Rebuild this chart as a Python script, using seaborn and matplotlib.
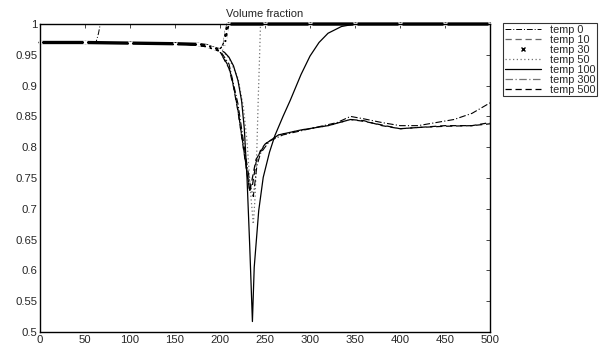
import matplotlib
matplotlib.use("Agg")
import matplotlib.pyplot as plt
from matplotlib.lines import Line2D
import seaborn as sns

# values (x = position, y = volume fraction)
t0_x = [0, 30, 62, 65, 67, 70]
t0_y = [0.970, 0.970, 0.969, 0.985, 1.000, 1.040]

t10_x = [0, 100, 150, 175, 190, 200, 210, 215, 220, 225, 230, 233, 236, 240, 245, 250,
         265, 290, 320, 345, 360, 380, 400, 420, 450, 480, 500]
t10_y = [0.970, 0.969, 0.968, 0.966, 0.961, 0.955, 0.930, 0.900, 0.860, 0.810, 0.760, 0.730,
         0.738, 0.775, 0.795, 0.805, 0.820, 0.828, 0.835, 0.845, 0.842, 0.836, 0.830, 0.832,
         0.834, 0.835, 0.838]

t30_x = [0, 50, 100, 150, 175, 185, 192, 200, 203, 205, 206, 207, 209, 250, 300, 350, 400, 450, 500]
t30_y = [0.970, 0.970, 0.969, 0.968, 0.967, 0.965, 0.961, 0.958, 0.962, 0.969, 0.977, 0.988,
         1.000, 1.000, 1.000, 1.000, 1.000, 1.000, 1.000]

t50_x = [0, 100, 150, 185, 200, 210, 220, 226, 230, 234, 237, 239, 241, 242.5, 244, 245, 300, 500]
t50_y = [0.970, 0.969, 0.968, 0.965, 0.960, 0.945, 0.912, 0.865, 0.810, 0.725, 0.675, 0.720,
         0.800, 0.880, 0.950, 1.000, 1.000, 1.000]

t100_x = [0, 100, 150, 185, 200, 205, 210, 215, 220, 224, 227, 230, 233, 236, 238, 243, 248,
          255, 261, 270, 278, 290, 300, 310, 320, 335, 350, 400, 500]
t100_y = [0.970, 0.969, 0.968, 0.965, 0.958, 0.954, 0.946, 0.932, 0.908, 0.875, 0.830, 0.750,
          0.640, 0.517, 0.605, 0.697, 0.751, 0.792, 0.819, 0.850, 0.876, 0.918, 0.948, 0.970,
          0.985, 0.996, 1.000, 1.000, 1.000]

t300_x = [0, 100, 150, 185, 200, 210, 220, 228, 234, 237, 241, 245, 255, 270, 300, 330, 345,
          360, 380, 400, 420, 440, 460, 480, 500]
t300_y = [0.970, 0.969, 0.968, 0.965, 0.957, 0.935, 0.870, 0.790, 0.735, 0.720, 0.770, 0.790,
          0.810, 0.820, 0.830, 0.840, 0.850, 0.846, 0.840, 0.835, 0.835, 0.840, 0.845, 0.855, 0.872]

t500_x = [0, 100, 150, 175, 190, 200, 210, 215, 220, 225, 230, 233, 240, 250, 265, 290, 320,
          345, 360, 380, 400, 420, 450, 480, 500]
t500_y = [0.970, 0.969, 0.968, 0.966, 0.961, 0.955, 0.928, 0.898, 0.858, 0.808, 0.758, 0.728,
          0.780, 0.805, 0.820, 0.828, 0.835, 0.845, 0.843, 0.835, 0.830, 0.832, 0.835, 0.835, 0.840]

labels = ["temp 0", "temp 10", "temp 30", "temp 50", "temp 100", "temp 300", "temp 500"]
x_ticks = list(range(0, 501, 50))
y_ticks = [0.5, 0.55, 0.6, 0.65, 0.7, 0.75, 0.8, 0.85, 0.9, 0.95, 1.0]
y_tick_labels = ["0.5", "0.55", "0.6", "0.65", "0.7", "0.75", "0.8", "0.85", "0.9", "0.95", "1"]

sns.set_style("white")
plt.rcParams["font.family"] = ["Liberation Sans", "DejaVu Sans"]
plt.rcParams["xtick.direction"] = "in"
plt.rcParams["ytick.direction"] = "in"

fig = plt.figure(figsize=(6.07, 3.47), dpi=100)
ax = fig.add_axes([0.0659, 0.0432, 0.7414, 0.8876])

dashdot = (0, (6, 2, 1, 2))
dashed = (0, (5, 3))
dotted = (0, (1, 2))

sns.lineplot(x=t0_x, y=t0_y, ax=ax, color="k", lw=0.7, linestyle=dashdot, sort=False)
sns.lineplot(x=t10_x, y=t10_y, ax=ax, color="k", lw=0.9, linestyle=dashed, sort=False)
sns.lineplot(x=t50_x, y=t50_y, ax=ax, color="0.45", lw=0.9, linestyle=dotted, sort=False)
sns.lineplot(x=t100_x, y=t100_y, ax=ax, color="k", lw=0.9, linestyle="-", sort=False)
sns.lineplot(x=t300_x, y=t300_y, ax=ax, color="k", lw=0.8, linestyle=dashdot, sort=False)
sns.lineplot(x=t500_x, y=t500_y, ax=ax, color="k", lw=0.9, linestyle=(3, (5, 3)), sort=False)
sns.lineplot(x=t30_x, y=t30_y, ax=ax, color="k", lw=2.4, marker="x", markersize=3,
             markeredgewidth=1, sort=False, clip_on=False)

ax.set_xlim(0, 500)
ax.set_ylim(0.5, 1.0)
ax.set_xticks(x_ticks)
ax.set_yticks(y_ticks)
ax.set_yticklabels(y_tick_labels)
ax.tick_params(labelsize=8.2, length=3, width=0.6, top=True, right=True, pad=2)
for s in ax.spines.values():
    s.set_linewidth(1.0)
    s.set_color("k")
ax.set_title("Volume fraction", fontsize=8, pad=5)

handles = [
    Line2D([], [], color="k", lw=0.7, linestyle=dashdot),
    Line2D([], [], color="0.4", lw=0.9, linestyle=dashed),
    Line2D([], [], color="k", lw=0, marker="x", markersize=3, markeredgewidth=1),
    Line2D([], [], color="0.45", lw=0.9, linestyle=dotted),
    Line2D([], [], color="k", lw=0.9, linestyle="-"),
    Line2D([], [], color="0.45", lw=0.9, linestyle=dashdot),
    Line2D([], [], color="k", lw=0.9, linestyle=dashed),
]
leg = fig.legend(handles, labels, loc="upper left", bbox_to_anchor=(503 / 607, 1 - 23 / 347),
                 fontsize=7.8, frameon=True, fancybox=False, borderpad=0.15, labelspacing=0.0,
                 handlelength=3.4, handletextpad=0.8, borderaxespad=0)
leg.get_frame().set_edgecolor("k")
leg.get_frame().set_linewidth(0.8)

fig.savefig("out.png", dpi=100)
